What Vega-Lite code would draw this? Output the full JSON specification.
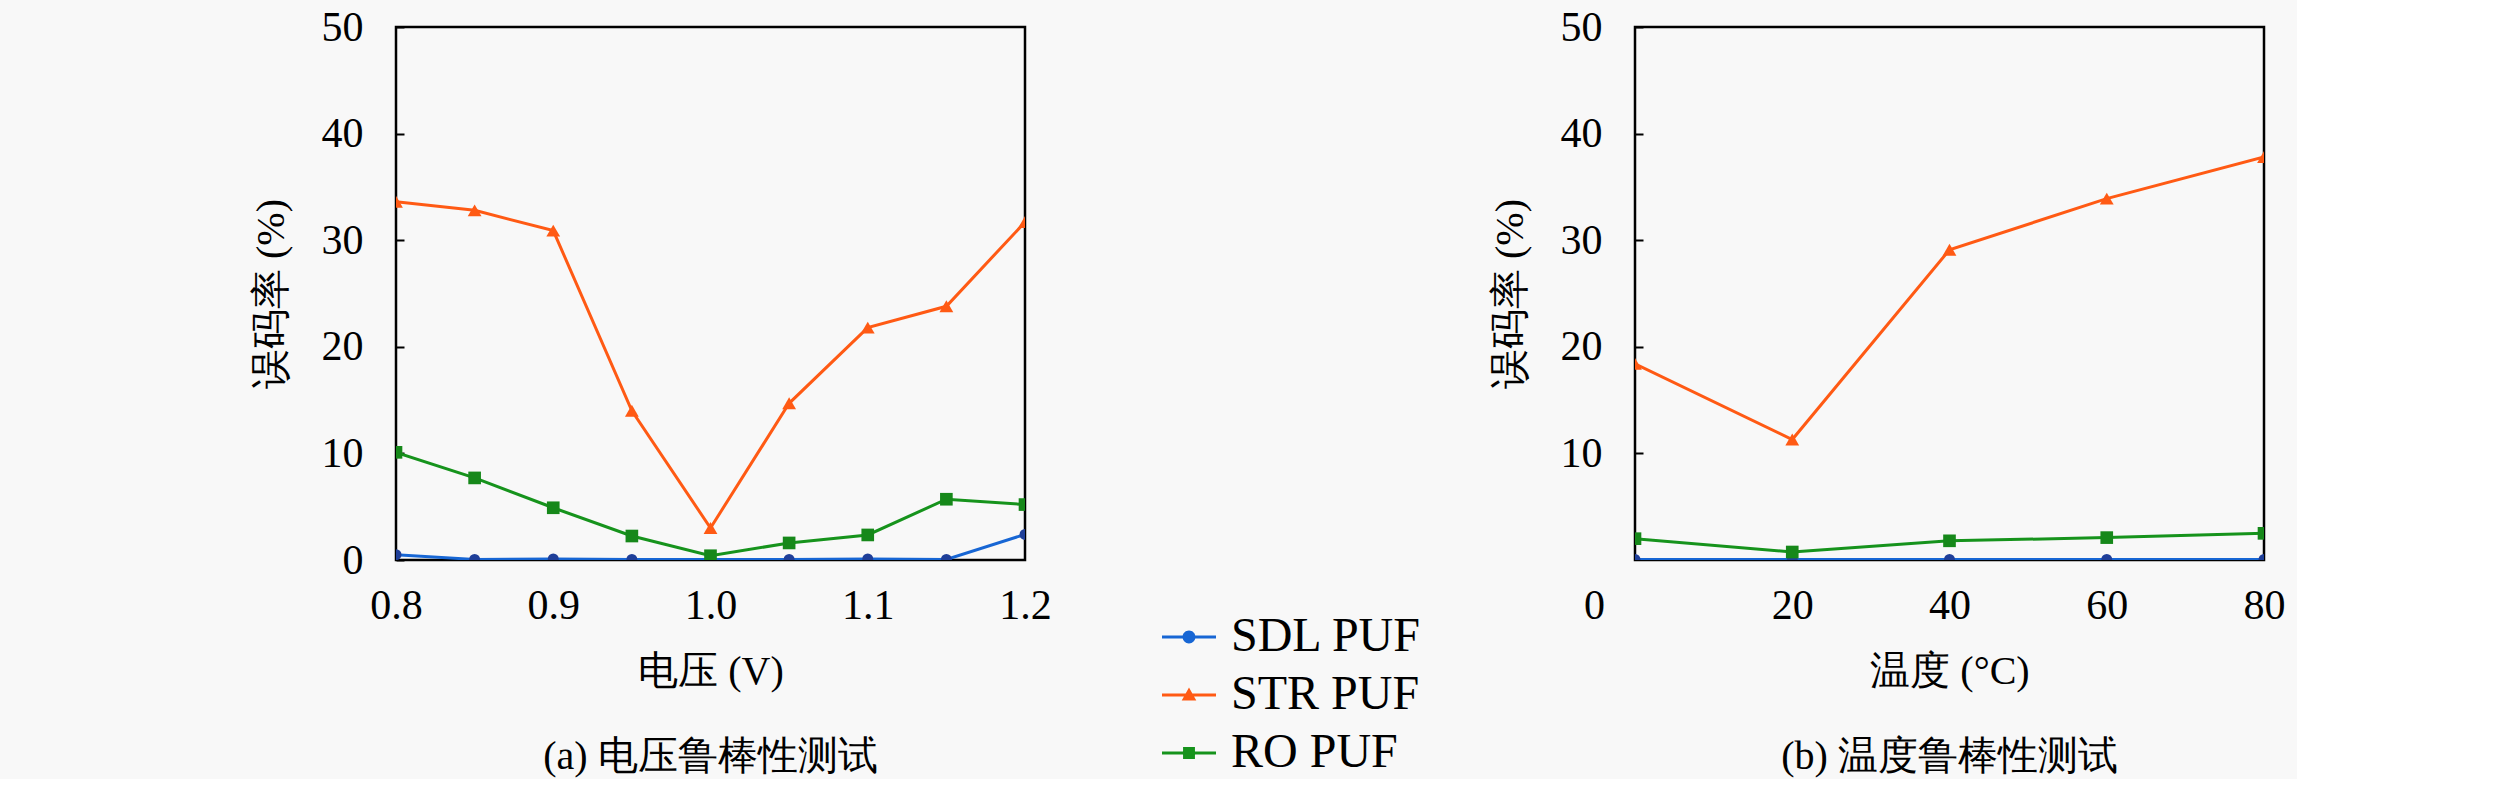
{
  "$schema": "https://vega.github.io/schema/vega-lite/v6.json",
  "background": "#f8f8f8",
  "padding": {"left": 249, "top": 4, "right": 10, "bottom": 0},
  "datasets": {
    "volt": [
      {"v": 0.80, "puf": "SDL PUF", "err": 0.5},
      {"v": 0.85, "puf": "SDL PUF", "err": 0.05},
      {"v": 0.90, "puf": "SDL PUF", "err": 0.1},
      {"v": 0.95, "puf": "SDL PUF", "err": 0.05},
      {"v": 1.00, "puf": "SDL PUF", "err": 0.05},
      {"v": 1.05, "puf": "SDL PUF", "err": 0.05},
      {"v": 1.10, "puf": "SDL PUF", "err": 0.1},
      {"v": 1.15, "puf": "SDL PUF", "err": 0.05},
      {"v": 1.20, "puf": "SDL PUF", "err": 2.4},
      {"v": 0.80, "puf": "STR PUF", "err": 33.6},
      {"v": 0.85, "puf": "STR PUF", "err": 32.8},
      {"v": 0.90, "puf": "STR PUF", "err": 30.9},
      {"v": 0.95, "puf": "STR PUF", "err": 14.0},
      {"v": 1.00, "puf": "STR PUF", "err": 3.0},
      {"v": 1.05, "puf": "STR PUF", "err": 14.7},
      {"v": 1.10, "puf": "STR PUF", "err": 21.8},
      {"v": 1.15, "puf": "STR PUF", "err": 23.8},
      {"v": 1.20, "puf": "STR PUF", "err": 31.7},
      {"v": 0.80, "puf": "RO PUF", "err": 10.1},
      {"v": 0.85, "puf": "RO PUF", "err": 7.7},
      {"v": 0.90, "puf": "RO PUF", "err": 4.9},
      {"v": 0.95, "puf": "RO PUF", "err": 2.25},
      {"v": 1.00, "puf": "RO PUF", "err": 0.4},
      {"v": 1.05, "puf": "RO PUF", "err": 1.6},
      {"v": 1.10, "puf": "RO PUF", "err": 2.35},
      {"v": 1.15, "puf": "RO PUF", "err": 5.7},
      {"v": 1.20, "puf": "RO PUF", "err": 5.2}
    ],
    "temp": [
      {"t": 0, "puf": "SDL PUF", "err": 0.05},
      {"t": 20, "puf": "SDL PUF", "err": 0.05},
      {"t": 40, "puf": "SDL PUF", "err": 0.05},
      {"t": 60, "puf": "SDL PUF", "err": 0.05},
      {"t": 80, "puf": "SDL PUF", "err": 0.05},
      {"t": 0, "puf": "STR PUF", "err": 18.4},
      {"t": 20, "puf": "STR PUF", "err": 11.3},
      {"t": 40, "puf": "STR PUF", "err": 29.1},
      {"t": 60, "puf": "STR PUF", "err": 33.9},
      {"t": 80, "puf": "STR PUF", "err": 37.8},
      {"t": 0, "puf": "RO PUF", "err": 2.0},
      {"t": 20, "puf": "RO PUF", "err": 0.75},
      {"t": 40, "puf": "RO PUF", "err": 1.8},
      {"t": 60, "puf": "RO PUF", "err": 2.1},
      {"t": 80, "puf": "RO PUF", "err": 2.5}
    ]
  },
  "spacing": 435,
  "hconcat": [
    {
      "width": 629,
      "height": 533,
      "data": {"name": "volt"},
      "title": {"text": "(a) 电压鲁棒性测试", "orient": "bottom", "offset": 46},
      "encoding": {
        "x": {
          "field": "v", "type": "quantitative",
          "scale": {"domain": [0.8, 1.2]},
          "axis": {"values": [0.8, 0.9, 1.0, 1.1, 1.2], "format": ".1f", "title": "电压 (V)", "ticks": false}
        },
        "y": {
          "field": "err", "type": "quantitative",
          "scale": {"domain": [0, 50]},
          "axis": {"values": [0, 10, 20, 30, 40, 50], "title": "误码率 (%)", "tickSize": -8, "labelPadding": 41}
        }
      },
      "layer": [
        {
          "transform": [{"filter": "datum.puf === 'SDL PUF'"}],
          "mark": {"type": "line", "strokeWidth": 3, "clip": true, "color": "#1766d4"}
        },
        {
          "transform": [{"filter": "datum.puf === 'STR PUF'"}],
          "mark": {"type": "line", "strokeWidth": 3, "clip": true, "color": "#ff5a14"}
        },
        {
          "transform": [{"filter": "datum.puf === 'RO PUF'"}],
          "mark": {"type": "line", "strokeWidth": 3, "clip": true, "color": "#16931c"}
        },
        {
          "transform": [{"filter": "datum.puf === 'SDL PUF'"}],
          "mark": {"type": "point", "shape": "circle", "filled": true, "size": 120, "opacity": 1, "color": "#1f3f99", "clip": true}
        },
        {
          "transform": [{"filter": "datum.puf === 'STR PUF'"}],
          "mark": {"type": "point", "shape": "triangle-up", "filled": true, "size": 190, "opacity": 1, "color": "#ff5a14", "clip": true}
        },
        {
          "transform": [{"filter": "datum.puf === 'RO PUF'"}],
          "mark": {"type": "point", "shape": "square", "filled": true, "size": 160, "opacity": 1, "color": "#16881a", "clip": true}
        },
        {
          "transform": [{"filter": "false"}],
          "mark": {"type": "point", "filled": true, "opacity": 1},
          "encoding": {
            "color": {"field": "puf", "type": "nominal",
              "scale": {"domain": ["SDL PUF", "STR PUF", "RO PUF"], "range": ["#1766d4", "#ff5a14", "#16931c"]},
              "legend": {"title": null}},
            "shape": {"field": "puf", "type": "nominal",
              "scale": {"domain": ["SDL PUF", "STR PUF", "RO PUF"],
                "range": [
                  "M-1,-0.055H1V0.055H-1Z M0.24,0A0.24,0.24,0,1,1,-0.24,0A0.24,0.24,0,1,1,0.24,0Z",
                  "M-1,-0.055H1V0.055H-1Z M0,-0.28L0.27,0.2H-0.27Z",
                  "M-1,-0.055H1V0.055H-1Z M-0.22,-0.22H0.22V0.22H-0.22Z"
                ]},
              "legend": {"title": null}}
          }
        }
      ]
    },
    {
      "width": 629,
      "height": 533,
      "data": {"name": "temp"},
      "title": {"text": "(b) 温度鲁棒性测试", "orient": "bottom", "offset": 46},
      "encoding": {
        "x": {
          "field": "t", "type": "quantitative",
          "scale": {"domain": [0, 80]},
          "axis": {"values": [0, 20, 40, 60, 80], "title": "温度 (°C)", "ticks": false,
            "labelOffset": {"condition": {"test": "datum.value === 0", "value": -41}, "value": 0}}
        },
        "y": {
          "field": "err", "type": "quantitative",
          "scale": {"domain": [0, 50]},
          "axis": {"values": [10, 20, 30, 40, 50], "title": "误码率 (%)", "tickSize": -8, "labelPadding": 41}
        }
      },
      "layer": [
        {
          "transform": [{"filter": "datum.puf === 'SDL PUF'"}],
          "mark": {"type": "line", "strokeWidth": 3, "clip": true, "color": "#1766d4"}
        },
        {
          "transform": [{"filter": "datum.puf === 'STR PUF'"}],
          "mark": {"type": "line", "strokeWidth": 3, "clip": true, "color": "#ff5a14"}
        },
        {
          "transform": [{"filter": "datum.puf === 'RO PUF'"}],
          "mark": {"type": "line", "strokeWidth": 3, "clip": true, "color": "#16931c"}
        },
        {
          "transform": [{"filter": "datum.puf === 'SDL PUF'"}],
          "mark": {"type": "point", "shape": "circle", "filled": true, "size": 120, "opacity": 1, "color": "#1f3f99", "clip": true}
        },
        {
          "transform": [{"filter": "datum.puf === 'STR PUF'"}],
          "mark": {"type": "point", "shape": "triangle-up", "filled": true, "size": 190, "opacity": 1, "color": "#ff5a14", "clip": true}
        },
        {
          "transform": [{"filter": "datum.puf === 'RO PUF'"}],
          "mark": {"type": "point", "shape": "square", "filled": true, "size": 160, "opacity": 1, "color": "#16881a", "clip": true}
        }
      ]
    }
  ],
  "config": {
    "font": "Liberation Serif",
    "view": {"stroke": "black", "strokeWidth": 2.5},
    "title": {"fontSize": 40, "fontWeight": "normal", "color": "black", "font": "Liberation Serif"},
    "axis": {
      "grid": false,
      "domain": false,
      "labelFontSize": 42,
      "labelColor": "black",
      "labelFont": "Liberation Serif",
      "titleFontSize": 40,
      "titleFontWeight": "normal",
      "titleColor": "black",
      "titleFont": "Liberation Serif",
      "tickColor": "black",
      "tickWidth": 2,
      "labelFlush": false,
      "labelOverlap": false
    },
    "axisX": {"labelPadding": 25, "titlePadding": 25},
    "axisY": {"titlePadding": 30},
    "legend": {
      "orient": "none",
      "legendX": 766,
      "legendY": 583,
      "symbolSize": 2916,
      "symbolStrokeWidth": 0,
      "labelFontSize": 48,
      "labelColor": "black",
      "labelFont": "Liberation Serif",
      "labelOffset": 15,
      "rowPadding": 7,
      "labelLimit": 400
    }
  }
}
